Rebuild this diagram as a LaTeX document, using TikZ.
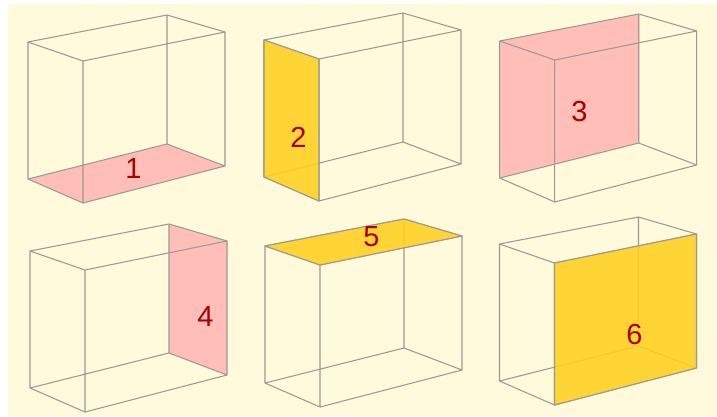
\documentclass[tikz,border=0pt]{standalone}
\usepackage{fontspec}
\setmainfont{Liberation Sans}
\definecolor{cream}{HTML}{FFFADC}
\definecolor{rosef}{HTML}{FFBFB8}
\definecolor{goldf}{HTML}{FFD01E}
\definecolor{edge}{HTML}{9C9894}
\definecolor{numc}{HTML}{AA0000}
\tikzset{x=1pt,y=-1pt,
 edgeline/.style={draw=edge,line width=1.05pt,line join=round},
 pinkface/.style={fill=rosef},
 goldface/.style={fill=goldf,fill opacity=0.88},
 numlabel/.style={text=numc,font=\fontsize{29}{29}\selectfont,inner sep=0pt}}
\newcommand{\cubeframe}[2]{%
 \begin{scope}[shift={(#1,#2)}]
 \draw[edgeline] (0,137) -- (0,0) -- (55,19) -- (197,-10);
 \draw[edgeline] (55,19) -- (55,161) -- (0,137);
 \draw[edgeline] (0,0) -- (139,-27) -- (197,-10) -- (197,124) -- (55,161);
 \draw[edgeline] (139,-27) -- (139,102) -- (197,124) (139,102) -- (0,137);
 \end{scope}}
\begin{document}
\begin{tikzpicture}
\useasboundingbox (0,0) rectangle (717,416);
\fill[white] (0,0) rectangle (717,416);
\fill[cream] (8,3.5) rectangle (717,416);
% pink faces lie under the frames
\fill[pinkface] (28,179) -- (83,203) -- (225,166) -- (167,144) -- cycle;
\fill[pinkface] (499.7,41) -- (639.7,14) -- (639.7,143) -- (499.7,178) -- cycle;
\fill[pinkface] (169,224) -- (227,241) -- (227,375) -- (169,353) -- cycle;
% frames
\cubeframe{28}{42}
\cubeframe{264}{40}
\cubeframe{499.7}{41}
\cubeframe{30}{251}
\cubeframe{265}{246}
\cubeframe{499.5}{244}
% gold faces lie over the frames, hidden edges showing faintly
\fill[goldface] (264,40) -- (319,59) -- (319,201) -- (264,177) -- cycle;
\fill[goldface] (265,246) -- (404,219) -- (462,236) -- (320,265) -- cycle;
\fill[goldface] (554.5,263) -- (696.5,234) -- (696.5,368) -- (554.5,405) -- cycle;
\draw[edgeline] (264,40) -- (319,59) -- (319,201) -- (264,177) -- cycle;
\draw[edgeline] (265,246) -- (404,219) -- (462,236) -- (320,265) -- cycle;
\draw[edgeline] (554.5,263) -- (696.5,234) -- (696.5,368) -- (554.5,405) -- cycle;
% labels
\node[numlabel] (n1) at (133.5,168.5) {1};
\node[numlabel] (n2) at (298.5,137.5) {2};
\node[numlabel] (n3) at (579.5,111.5) {3};
\node[numlabel] (n4) at (205.5,316.5) {4};
\node[numlabel] (n5) at (371.5,236.5) {5};
\node[numlabel] (n6) at (634.5,335) {6};
\end{tikzpicture}
\end{document}
